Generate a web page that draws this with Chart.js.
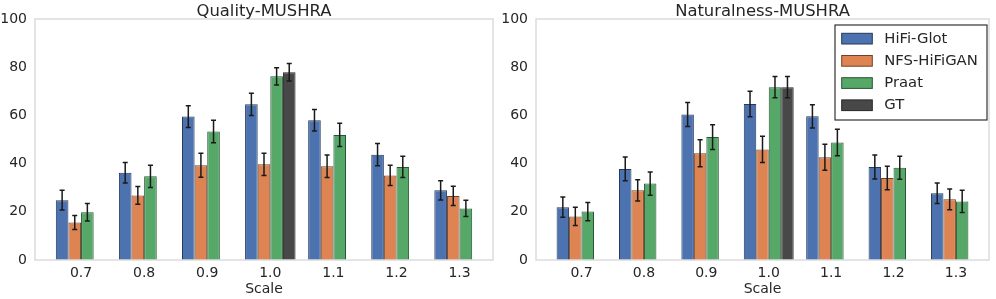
<!DOCTYPE html>
<html>
<head>
<meta charset="utf-8">
<script src="https://cdn.jsdelivr.net/npm/chart.js@4.4.0/dist/chart.umd.min.js"></script>
<style>
  body { margin: 0; background: #fff; }
  canvas { position: absolute; top: 0; }
  #quality { left: 0; }
  #naturalness { left: 496px; }
</style>
</head>
<body>
<canvas id="quality" width="496" height="299"></canvas>
<canvas id="naturalness" width="500" height="299"></canvas>
<script>
const categories = ['0.7', '0.8', '0.9', '1.0', '1.1', '1.2', '1.3'];
const seriesNames = ['HiFi-Glot', 'NFS-HiFiGAN', 'Praat', 'GT'];

// Quality-MUSHRA
const qualityHifiGlot = [24.8, 36.2, 59.5, 64.6, 58.0, 43.7, 28.9];
const qualityHifiGlotErr = [4.1, 4.3, 4.5, 4.6, 4.5, 4.6, 4.0];
const qualityNfs = [15.6, 26.8, 39.3, 39.7, 38.9, 35.1, 26.6];
const qualityNfsErr = [2.9, 3.7, 5.0, 4.6, 4.7, 4.2, 4.0];
const qualityPraat = [19.8, 34.7, 53.3, 76.2, 51.9, 38.6, 21.4];
const qualityPraatErr = [3.6, 4.6, 4.7, 3.6, 4.8, 4.4, 3.4];
const qualityGT = [null, null, null, 77.9, null, null, null];
const qualityGTErr = [null, null, null, 3.6, null, null, null];

// Naturalness-MUSHRA
const naturalHifiGlot = [21.9, 37.8, 60.4, 64.7, 59.6, 38.6, 27.7];
const naturalHifiGlotErr = [4.2, 4.9, 5.0, 5.3, 4.8, 5.0, 4.3];
const naturalNfs = [18.1, 28.9, 44.3, 45.9, 42.6, 34.0, 25.2];
const naturalNfsErr = [3.8, 4.4, 5.6, 5.4, 5.4, 4.9, 4.3];
const naturalPraat = [20.1, 31.7, 51.0, 71.7, 48.8, 38.3, 24.3];
const naturalPraatErr = [3.8, 4.8, 5.1, 4.4, 5.5, 4.8, 4.6];
const naturalGT = [null, null, null, 71.7, null, null, null];
const naturalGTErr = [null, null, null, 4.4, null, null, null];

const fills = ['#4C72B0', '#DD8452', '#55A868', '#484848'];
const edges = ['#26395a', '#6e4229', '#2b5434', '#262626'];
const FONT = "'DejaVu Sans', sans-serif";
const TEXT = '#262626';

function toPoints(values, errs) {
    return values
        .map((v, i) => ({ x: i, y: v, err: errs[i] }))
        .filter(p => p.y !== null);
}

// frame, error bars, title and (optionally) legend
const decorations = {
    id: 'decorations',
    afterDatasetsDraw(chart) {
        const ctx = chart.ctx;
        const a = chart.chartArea;
        const yScale = chart.scales.y;

        ctx.save();
        ctx.strokeStyle = '#dcdcdc';
        ctx.lineWidth = 1.5;
        ctx.strokeRect(a.left, a.top, a.right - a.left, a.bottom - a.top);

        ctx.strokeStyle = '#1a1a1a';
        ctx.lineWidth = 1.5;
        chart.data.datasets.forEach((ds, di) => {
            const meta = chart.getDatasetMeta(di);
            meta.data.forEach((bar, j) => {
                const p = ds.data[j];
                if (p.err == null) return;
                const top = yScale.getPixelForValue(p.y + p.err);
                const bottom = yScale.getPixelForValue(p.y - p.err);
                ctx.beginPath();
                ctx.moveTo(bar.x, top);
                ctx.lineTo(bar.x, bottom);
                ctx.moveTo(bar.x - 2.5, top);
                ctx.lineTo(bar.x + 2.5, top);
                ctx.moveTo(bar.x - 2.5, bottom);
                ctx.lineTo(bar.x + 2.5, bottom);
                ctx.stroke();
            });
        });
        ctx.restore();
    },
    afterDraw(chart, args, opts) {
        const ctx = chart.ctx;
        const a = chart.chartArea;
        ctx.save();
        ctx.fillStyle = TEXT;
        ctx.font = '16.4px ' + FONT;
        ctx.textAlign = 'center';
        ctx.textBaseline = 'alphabetic';
        ctx.fillText(opts.title, (a.left + a.right) / 2, 15.7);

        if (opts.legend) {
            const w = 152, h = 95;
            const left = a.right - 2 - w;
            const top = a.top + 6;
            ctx.fillStyle = '#fff';
            ctx.fillRect(left, top, w, h);
            ctx.strokeStyle = '#333';
            ctx.lineWidth = 1.2;
            ctx.strokeRect(left, top, w, h);
            ctx.font = '14.8px ' + FONT;
            ctx.textAlign = 'left';
            ctx.textBaseline = 'middle';
            seriesNames.forEach((name, i) => {
                const y = top + 8.3 + i * 22.2;
                ctx.fillStyle = fills[i];
                ctx.fillRect(left + 6.7, y, 30.6, 10.7);
                ctx.strokeStyle = edges[i];
                ctx.lineWidth = 1;
                ctx.strokeRect(left + 6.7, y, 30.6, 10.7);
                ctx.fillStyle = TEXT;
                ctx.fillText(name, left + 49.3, y + 5.6);
            });
        }
        ctx.restore();
    }
};

function makeChart(id, title, values, errs, yWidth, padRight, legend) {
    const datasets = seriesNames.map((name, i) => ({
        label: name,
        data: toPoints(values[i], errs[i]),
        backgroundColor: fills[i],
        borderColor: edges[i],
        borderWidth: 1,
        categoryPercentage: 0.8,
        barPercentage: 1.0
    }));

    return new Chart(document.getElementById(id), {
        type: 'bar',
        data: { datasets },
        plugins: [decorations],
        options: {
            responsive: false,
            animation: false,
            layout: { padding: { top: 19, right: padRight, left: 0, bottom: 0 } },
            plugins: {
                legend: { display: false },
                tooltip: { enabled: false },
                decorations: { title, legend }
            },
            scales: {
                x: {
                    type: 'linear',
                    offset: false,
                    min: -0.73,
                    max: 6.53,
                    grid: { display: false, drawTicks: false },
                    border: { display: false },
                    afterBuildTicks: scale => {
                        scale.ticks = categories.map((c, i) => ({ value: i }));
                    },
                    afterFit: scale => { scale.height = 39; },
                    ticks: {
                        autoSkip: false,
                        maxRotation: 0,
                        padding: 5,
                        color: TEXT,
                        font: { family: FONT, size: 14 },
                        callback: v => categories[v]
                    },
                    title: {
                        display: true,
                        text: 'Scale',
                        color: TEXT,
                        font: { family: FONT, size: 14 },
                        padding: { top: 0, bottom: 1 }
                    }
                },
                y: {
                    min: 0,
                    max: 100,
                    grid: { display: false, drawTicks: false },
                    border: { display: false },
                    afterFit: scale => { scale.width = yWidth; },
                    ticks: {
                        stepSize: 20,
                        padding: 8,
                        color: TEXT,
                        font: { family: FONT, size: 14 }
                    }
                }
            }
        }
    });
}

makeChart('quality', 'Quality-MUSHRA',
    [qualityHifiGlot, qualityNfs, qualityPraat, qualityGT],
    [qualityHifiGlotErr, qualityNfsErr, qualityPraatErr, qualityGTErr],
    35, 3, false);

makeChart('naturalness', 'Naturalness-MUSHRA',
    [naturalHifiGlot, naturalNfs, naturalPraat, naturalGT],
    [naturalHifiGlotErr, naturalNfsErr, naturalPraatErr, naturalGTErr],
    40, 7, true);
</script>
</body>
</html>
